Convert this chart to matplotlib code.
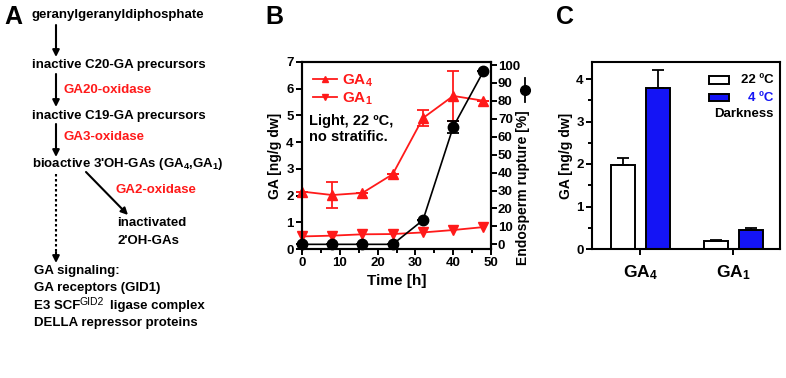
import numpy as np
import matplotlib
matplotlib.use('Agg')
import matplotlib.pyplot as plt
from matplotlib.patches import Rectangle
from matplotlib.lines import Line2D
from matplotlib.ticker import MultipleLocator

plt.rcParams['font.family'] = ['Liberation Sans', 'DejaVu Sans']
plt.rcParams['font.weight'] = 'bold'
plt.rcParams['axes.labelweight'] = 'bold'
plt.rcParams['mathtext.fontset'] = 'custom'
plt.rcParams['mathtext.rm'] = 'Liberation Sans:bold'
plt.rcParams['mathtext.it'] = 'Liberation Sans:bold'
plt.rcParams['mathtext.bf'] = 'Liberation Sans:bold'
plt.rcParams['mathtext.sf'] = 'Liberation Sans'
plt.rcParams['mathtext.default'] = 'rm'

# panel B data
time_h = [0, 8, 16, 24, 32, 40, 48]
ga4 = [2.15, 2.02, 2.1, 2.8, 4.9, 5.73, 5.55]
ga4_err = [0, 0.48, 0, 0, 0.3, 0.92, 0]
ga1 = [0.47, 0.5, 0.55, 0.56, 0.62, 0.71, 0.82]
rupture = [0, 0, 0, 0, 13.5, 65.5, 96.5]
rupture_err = [0, 0, 0, 0, 0, 3.5, 0]

# panel C data
groups = ['GA$_4$', 'GA$_1$']
c22 = [1.97, 0.195]
c22_err = [0.18, 0.02]
c4 = [3.79, 0.45]
c4_err = [0.43, 0.04]

W, H = 786, 378
fig = plt.figure(figsize=(W / 100, H / 100), dpi=100)

# ---- panel A (pathway scheme), pixel coordinates
axA = fig.add_axes([0, 0, 1, 1])
axA.set_xlim(0, W)
axA.set_ylim(H, 0)
axA.axis('off')

fs = 9.5
red = '#ff1a1a'
axA.text(4, 17, 'A', fontsize=18, va='center')
axA.text(265, 17, 'B', fontsize=18, va='center')
axA.text(556, 17, 'C', fontsize=18, va='center')

axA.text(32, 15, 'geranylgeranyldiphosphate', fontsize=fs, va='center')
axA.text(32, 65, 'inactive C20-GA precursors', fontsize=fs, va='center')
axA.text(64, 90, 'GA20-oxidase', fontsize=fs, va='center', color=red)
axA.text(32, 116, 'inactive C19-GA precursors', fontsize=fs, va='center')
axA.text(64, 137, 'GA3-oxidase', fontsize=fs, va='center', color=red)
axA.text(32, 164, "bioactive 3'OH-GAs (GA$_4$,GA$_1$)", fontsize=fs, va='center')
axA.text(115, 190, 'GA2-oxidase', fontsize=fs, va='center', color=red)
axA.text(117, 223, 'inactivated', fontsize=fs, va='center')
axA.text(117, 241, "2'OH-GAs", fontsize=fs, va='center')
axA.text(34, 271, 'GA signaling:', fontsize=fs, va='center')
axA.text(34, 288, 'GA receptors (GID1)', fontsize=fs, va='center')
axA.text(34, 306, 'E3 SCF', fontsize=fs, va='center')
axA.text(80, 302, 'GID2', fontsize=7.5, va='center', fontweight='normal')
axA.text(110, 306, 'ligase complex', fontsize=fs, va='center')
axA.text(34, 323, 'DELLA repressor proteins', fontsize=fs, va='center')

arw = dict(arrowstyle='-|>', color='k', lw=1.5, mutation_scale=10, shrinkA=0, shrinkB=0)
for y0, y1 in [(25, 57), (74, 107), (124, 157)]:
    axA.annotate('', xy=(56, y1), xytext=(56, y0), arrowprops=arw)
axA.annotate('', xy=(128, 215), xytext=(86, 172), arrowprops=arw)
axA.plot([56, 56], [174, 252], color='k', lw=1.5, ls=(0, (1.2, 1.2)))
axA.annotate('', xy=(56, 263), xytext=(56, 252), arrowprops=arw)

# ---- panel B
x0, x1, yt, yb = 302, 491, 62, 249
axB = fig.add_axes([x0 / W, 1 - yb / H, (x1 - x0) / W, (yb - yt) / H])
axB.errorbar(time_h, ga4, yerr=ga4_err, color=red, marker='^', ms=6.5, lw=1.3,
             capsize=4, elinewidth=1.3, capthick=1.3, clip_on=False)
axB.plot(time_h, ga1, color=red, marker='v', ms=6.5, lw=1.3, clip_on=False)
axB.set_xlim(0, 50)
axB.set_ylim(0, 7)
axB.xaxis.set_major_locator(MultipleLocator(10))
axB.xaxis.set_minor_locator(MultipleLocator(5))
axB.set_xlabel('Time [h]', fontsize=11, labelpad=3)
axB.set_ylabel('GA [ng/g dw]', fontsize=10, labelpad=3)
axB.tick_params(labelsize=9.5, width=1.4, length=4, pad=2)
axB.tick_params(which='minor', width=1.4, length=3)
axB.text(0.035, 0.64, 'Light, 22 \u00baC,\nno stratific.', transform=axB.transAxes,
         fontsize=10.5, va='center', linespacing=1.15)
handles = [Line2D([], [], color=red, marker='^', ms=5, lw=1.3),
           Line2D([], [], color=red, marker='v', ms=5, lw=1.3)]
leg = axB.legend(handles, ['GA$_4$', 'GA$_1$'], loc='upper left', frameon=False,
                 fontsize=11, handlelength=1.6, borderaxespad=0.3, handletextpad=0.3,
                 labelspacing=0.1, bbox_to_anchor=(0.0, 1.0))
for t in leg.get_texts():
    t.set_color(red)

axB2 = axB.twinx()
axB2.errorbar(time_h, rupture, yerr=rupture_err, color='k', marker='o', ms=7.5,
              lw=1.2, capsize=4, elinewidth=1.3, capthick=1.3, clip_on=False)
axB2.set_ylim(-2.6, 101.7)
axB2.yaxis.set_major_locator(MultipleLocator(10))
axB2.tick_params(labelsize=9.5, width=1.4, length=4, pad=1)
for ax in (axB, axB2):
    for s in ax.spines.values():
        s.set_linewidth(1.5)
axA.text(523, 188, 'Endosperm rupture [%]', fontsize=10, rotation=90,
         ha='center', va='center')
axA.plot([525, 525], [78, 102], color='k', lw=1.3)
axA.plot([525], [90], 'ko', ms=7)

# ---- panel C
c0, c1 = 592, 780
axC = fig.add_axes([c0 / W, 1 - yb / H, (c1 - c0) / W, (yb - yt) / H])
pos = np.arange(len(groups))
off, bw = 0.19, 0.255
blue = '#1414f5'
axC.bar(pos - off, c22, bw, color='white', edgecolor='k', lw=1.4,
        yerr=[[0, 0], c22_err], capsize=4, error_kw=dict(elinewidth=1.3, capthick=1.3))
axC.bar(pos + off, c4, bw, color=blue, edgecolor='k', lw=1.4,
        yerr=[[0, 0], c4_err], capsize=4, error_kw=dict(elinewidth=1.3, capthick=1.3))
axC.set_xlim(-0.52, 1.5)
axC.set_ylim(0, 4.4)
axC.set_xticks(pos)
axC.set_xticklabels(groups, fontsize=12.5)
axC.yaxis.set_major_locator(MultipleLocator(1))
axC.yaxis.set_minor_locator(MultipleLocator(0.5))
axC.set_ylabel('GA [ng/g dw]', fontsize=10, labelpad=2)
axC.tick_params(axis='y', labelsize=9.5, width=1.4, length=4, pad=2)
axC.tick_params(axis='y', which='minor', width=1.4, length=3)
axC.tick_params(axis='x', width=1.4, length=4, pad=6)
for s in axC.spines.values():
    s.set_linewidth(1.5)

# legend for C (manual)
axC.add_patch(Rectangle((0.62, 0.885), 0.11, 0.04, transform=axC.transAxes,
                        facecolor='white', edgecolor='k', lw=1.4))
axC.add_patch(Rectangle((0.62, 0.79), 0.11, 0.04, transform=axC.transAxes,
                        facecolor=blue, edgecolor='k', lw=1.4))
axC.text(0.965, 0.905, '22 \u00baC', transform=axC.transAxes, ha='right',
         va='center', fontsize=9.5)
axC.text(0.965, 0.81, '4 \u00baC', transform=axC.transAxes, ha='right',
         va='center', fontsize=9.5, color=blue)
axC.text(0.965, 0.72, 'Darkness', transform=axC.transAxes, ha='right',
         va='center', fontsize=9.5)

fig.savefig('out.png', dpi=100)
